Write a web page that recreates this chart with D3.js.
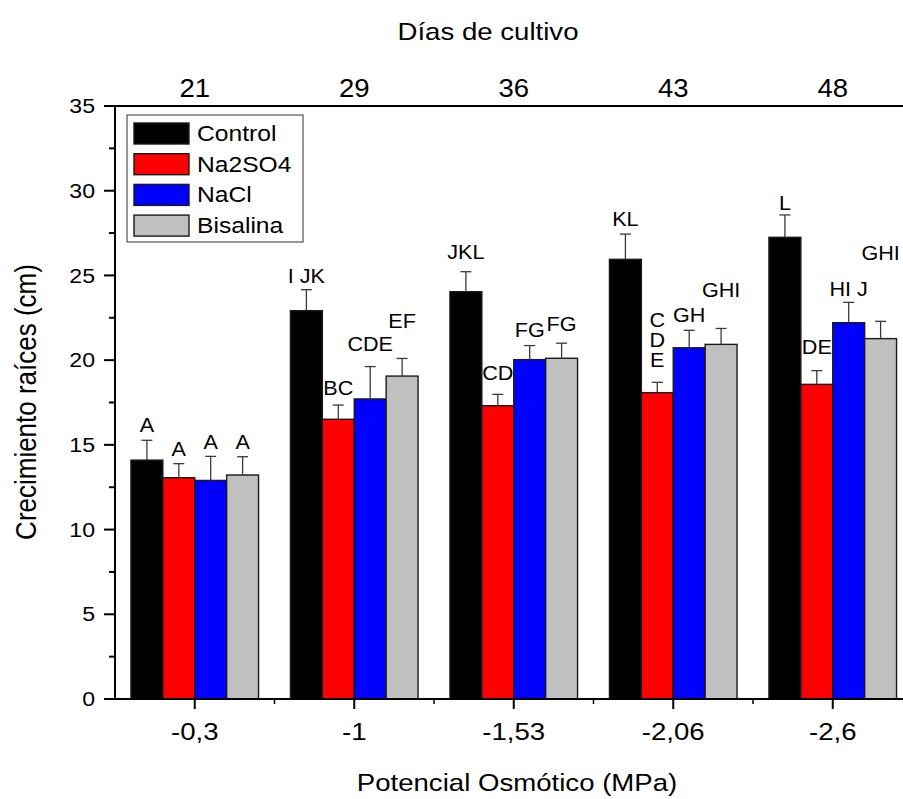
<!DOCTYPE html>
<html>
<head>
<meta charset="utf-8">
<script src="https://cdn.jsdelivr.net/npm/d3@7"></script>
<style>
  html, body { margin: 0; padding: 0; background: #fff; }
  svg { display: block; font-family: Arial, "Liberation Sans", sans-serif; }
</style>
</head>
<body>
<svg id="chart" width="903" height="799"></svg>
<script>
// ---------------- data ----------------
const groups = ["-0,3", "-1", "-1,53", "-2,06", "-2,6"];
const days = ["21", "29", "36", "43", "48"];
const seriesNames = ["Control", "Na2SO4", "NaCl", "Bisalina"];

const control  = [14.10, 22.92, 24.04, 25.95, 27.25];
const na2so4   = [13.06, 16.51, 17.31, 18.08, 18.57];
const nacl     = [12.90, 17.71, 20.03, 20.73, 22.21];
const bisalina = [13.22, 19.06, 20.11, 20.93, 21.27];

const controlErr  = [1.17, 1.24, 1.18, 1.49, 1.32];
const na2so4Err   = [0.83, 0.84, 0.67, 0.61, 0.81];
const naclErr     = [1.42, 1.91, 0.83, 1.03, 1.20];
const bisalinaErr = [1.08, 1.04, 0.89, 0.94, 1.02];

const controlLetters  = ["A", "I JK", "JKL", "KL", "L"];
const na2so4Letters   = ["A", "BC", "CD", "C\nD\nE", "DE"];
const naclLetters     = ["A", "CDE", "FG", "GH", "HI J"];
const bisalinaLetters = ["A", "EF", "FG", "GHI", "GHI"];

// letter anchor heights (cm)
const controlLetterY  = [16.17, 24.97, 26.40, 28.33, 29.26];
const na2so4LetterY   = [14.74, 18.36, 19.24, 21.19, 20.79];
const naclLetterY     = [15.19, 20.95, 21.82, 22.66, 24.24];
const bisalinaLetterY = [15.19, 22.31, 22.13, 24.14, 26.31];

const yTicks = [0, 5, 10, 15, 20, 25, 30, 35];

// ---------------- build ----------------
const values  = [control, na2so4, nacl, bisalina];
const errs    = [controlErr, na2so4Err, naclErr, bisalinaErr];
const letters = [controlLetters, na2so4Letters, naclLetters, bisalinaLetters];
const lettersY = [controlLetterY, na2so4LetterY, naclLetterY, bisalinaLetterY];
const colors  = ["#000000", "#ff0000", "#0000ff", "#c0c0c0"];

const rows = [];
groups.forEach((g, gi) => {
  seriesNames.forEach((s, si) => {
    rows.push({ group: g, series: s, si, value: values[si][gi], err: errs[si][gi],
                letter: letters[si][gi], letterY: lettersY[si][gi] });
  });
});

const svg = d3.select("#chart");
const mLeft = 115, mTop = 106, mBottom = 699, mRightEnd = 912.5;

const x0 = d3.scaleBand().domain(groups).range([mLeft, mRightEnd])
  .paddingInner(0.2).paddingOuter(0.1);
const x1 = d3.scaleBand().domain(seriesNames).range([0, x0.bandwidth()]);
const y = d3.scaleLinear().domain([0, 35]).range([mBottom, mTop]);

function sText(parent, x, yy, str, size, sx, anchor, baseline) {
  const g = parent.append("g").attr("transform", `translate(${x},${yy}) scale(${sx},1)`);
  return g.append("text").attr("x", 0).attr("y", 0)
    .attr("font-size", size).attr("text-anchor", anchor || "middle")
    .attr("dominant-baseline", baseline || "central").attr("fill", "#000").text(str);
}

// bars
svg.append("g").selectAll("rect").data(rows).join("rect")
  .attr("x", d => x0(d.group) + x1(d.series))
  .attr("y", d => y(d.value))
  .attr("width", x1.bandwidth())
  .attr("height", d => y(0) - y(d.value))
  .attr("fill", d => colors[d.si])
  .attr("stroke", "#1a1a1a").attr("stroke-width", 1.4);

// error bars (upper)
const eb = svg.append("g").attr("stroke", "#3a3a3a").attr("stroke-width", 1.3);
rows.forEach(d => {
  const cx = x0(d.group) + x1(d.series) + x1.bandwidth() / 2;
  eb.append("line").attr("x1", cx).attr("x2", cx)
    .attr("y1", y(d.value)).attr("y2", y(d.value + d.err));
  eb.append("line").attr("x1", cx - 5.5).attr("x2", cx + 5.5)
    .attr("y1", y(d.value + d.err)).attr("y2", y(d.value + d.err));
});

// letters
const lg = svg.append("g");
rows.forEach(d => {
  const cx = x0(d.group) + x1(d.series) + x1.bandwidth() / 2;
  const parts = d.letter.split("\n");
  const lh = 20;
  const y0 = y(d.letterY) - (parts.length - 1) * lh / 2;
  parts.forEach((p, i) => sText(lg, cx, y0 + i * lh, p, 20, 1.08));
});

// axes lines
const ax = svg.append("g").attr("stroke", "#000");
ax.append("line").attr("x1", mLeft).attr("x2", mRightEnd).attr("y1", mBottom).attr("y2", mBottom).attr("stroke-width", 2);
ax.append("line").attr("x1", mLeft).attr("x2", mRightEnd).attr("y1", mTop).attr("y2", mTop).attr("stroke-width", 2);
ax.append("line").attr("x1", mLeft).attr("x2", mLeft).attr("y1", mTop - 1).attr("y2", mBottom + 1).attr("stroke-width", 2);

// y ticks
const yMinor = d3.range(2.5, 35, 5);
yTicks.forEach(t => {
  ax.append("line").attr("x1", mLeft - 11).attr("x2", mLeft).attr("y1", y(t)).attr("y2", y(t)).attr("stroke-width", 2);
  sText(svg, 95, y(t), String(t), 21, 1.1, "end");
});
yMinor.forEach(t => {
  ax.append("line").attr("x1", mLeft - 6).attr("x2", mLeft).attr("y1", y(t)).attr("y2", y(t)).attr("stroke-width", 2);
});

// x ticks
groups.forEach((g, gi) => {
  const cx = x0(g) + x0.bandwidth() / 2;
  ax.append("line").attr("x1", cx).attr("x2", cx).attr("y1", mBottom).attr("y2", mBottom + 10).attr("stroke-width", 2);
  sText(svg, cx, 732, g, 24, 1.15);
  sText(svg, cx, 88, days[gi], 25, 1.1);
  if (gi > 0) {
    const mx = cx - x0.step() / 2;
    ax.append("line").attr("x1", mx).attr("x2", mx).attr("y1", mBottom).attr("y2", mBottom + 5).attr("stroke-width", 1.5);
  }
});
{
  const mx = x0(groups[4]) + x0.bandwidth() / 2 + x0.step() / 2;
  if (mx < 903) ax.append("line").attr("x1", mx).attr("x2", mx).attr("y1", mBottom).attr("y2", mBottom + 5).attr("stroke-width", 1.5);
}

// titles
sText(svg, 488, 40, "Días de cultivo", 24, 1.15, "middle", "auto");
sText(svg, 517, 791, "Potencial Osmótico (MPa)", 24, 1.15, "middle", "auto");
svg.append("g").attr("transform", `translate(26,402) rotate(-90) scale(1,1.15)`)
  .append("text").attr("text-anchor", "middle").attr("dominant-baseline", "central")
  .attr("font-size", 26).text("Crecimiento raíces (cm)");

// legend
const leg = svg.append("g");
leg.append("rect").attr("x", 127).attr("y", 115).attr("width", 176).attr("height", 127)
  .attr("fill", "#fff").attr("stroke", "#333").attr("stroke-width", 1);
seriesNames.forEach((s, i) => {
  const cy = 133.5 + i * 30.7;
  leg.append("rect").attr("x", 134).attr("y", cy - 10.5).attr("width", 55).attr("height", 21)
    .attr("fill", colors[i]).attr("stroke", "#1a1a1a").attr("stroke-width", 1.4);
  sText(leg, 197, cy, s, 22, 1.12, "start");
});
</script>
</body>
</html>
